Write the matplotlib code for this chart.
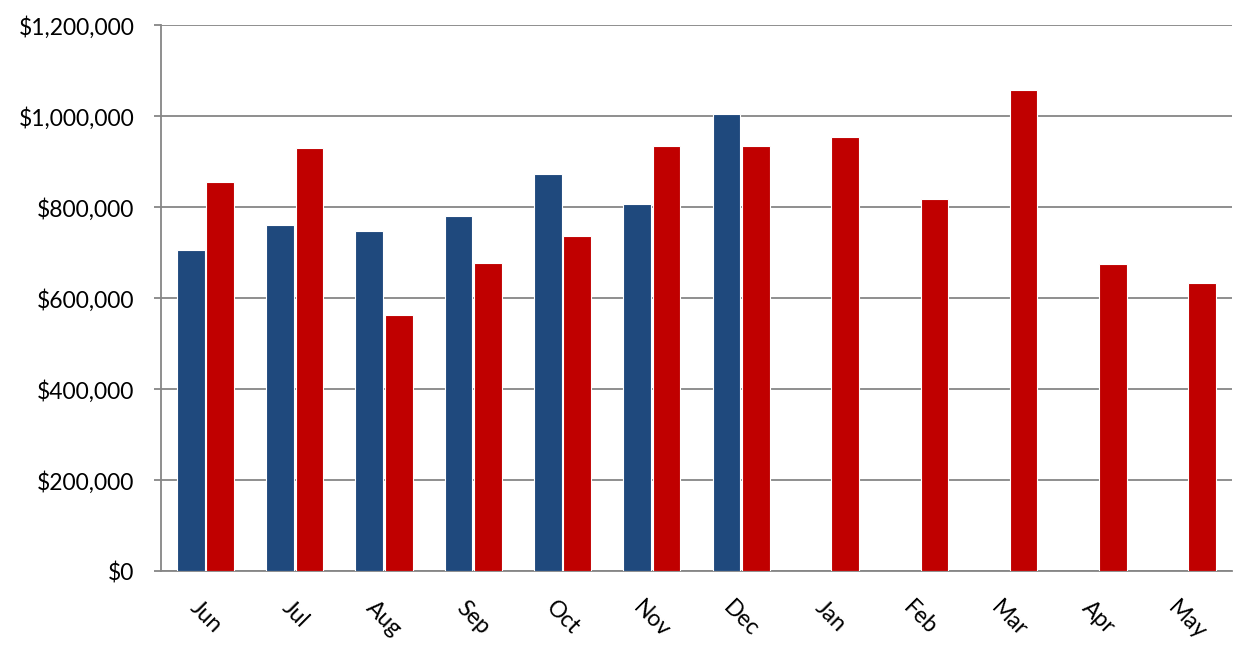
import numpy as np
import matplotlib
matplotlib.use("Agg")
import matplotlib.pyplot as plt
from matplotlib.ticker import FuncFormatter

plt.rcParams['font.family'] = ['Lato', 'DejaVu Sans']

## Data
months = ['Jun', 'Jul', 'Aug', 'Sep', 'Oct', 'Nov', 'Dec', 'Jan', 'Feb', 'Mar', 'Apr', 'May']
prior_year = [705000, 761000, 747000, 780000, 873000, 806000, 1004000]
current_year = [856000, 930000, 563000, 678000, 737000, 935000, 935000,
                953000, 817000, 1057000, 675000, 633000]

blue = '#1F497D'
red = '#C00000'
grid_gray = '#868686'

fig = plt.figure(figsize=(12.47, 6.45), dpi=100)
ax = fig.add_axes([0.129, 0.1147, 0.859, 0.8465])

x = np.arange(len(months))
w = 0.31
ax.bar(x[:len(prior_year)] - w / 2 - 0.01, prior_year, width=w, color=blue,
       edgecolor='white', linewidth=0.8, zorder=3)
ax.bar(x + w / 2 + 0.01, current_year, width=w, color=red,
       edgecolor='white', linewidth=0.8, zorder=3)

ax.set_xlim(-0.5, len(months) - 0.5)
ax.set_ylim(0, 1200000)
ax.set_yticks(np.arange(0, 1200001, 200000))
ax.yaxis.set_major_formatter(FuncFormatter(lambda v, p: '${:,.0f}'.format(v)))
ax.grid(axis='y', color=grid_gray, linewidth=1.3, zorder=0)

for side in ['top', 'right']:
    ax.spines[side].set_visible(False)
for side in ['left', 'bottom']:
    ax.spines[side].set_color(grid_gray)
    ax.spines[side].set_linewidth(1.3)

ax.tick_params(axis='y', length=5, width=1.3, color=grid_gray, pad=14, labelsize=16.5)
ax.tick_params(axis='x', length=0, pad=19, labelsize=16.5)
ax.set_xticks(x)
ax.set_xticklabels(months, rotation=-45, ha='center', va='top')

fig.savefig('out.png', dpi=100)
